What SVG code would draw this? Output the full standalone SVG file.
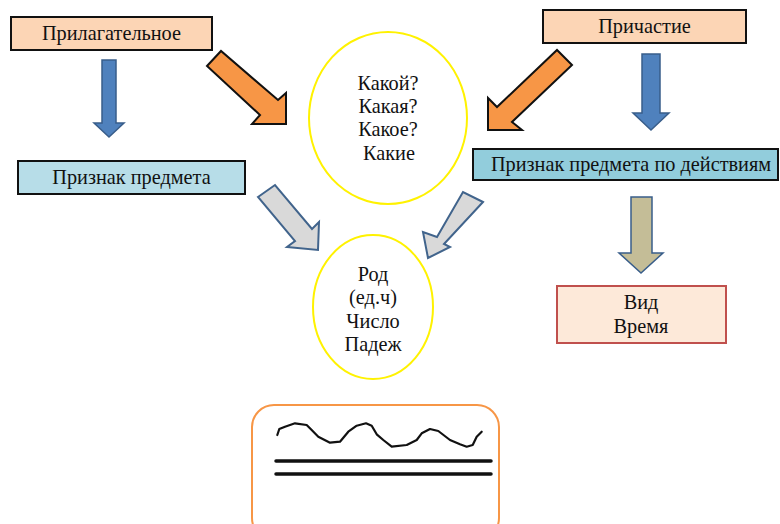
<svg xmlns="http://www.w3.org/2000/svg" width="780" height="524" viewBox="0 0 780 524">
<style>
text{font-family:"Liberation Serif","Times New Roman",serif;font-size:20.3px;fill:#111;text-anchor:middle}
.peach{fill:#FCD5B5;stroke:#111;stroke-width:2}
.blue{fill:#4F81BD;stroke:#385D8A;stroke-width:1.5}
.orange{fill:#F79646;stroke:#111;stroke-width:2}
.grey{fill:#D9D9D9;stroke:#41648C;stroke-width:2}
.ell{fill:#fff;stroke:#FFF200;stroke-width:2}
</style>
<rect width="780" height="524" fill="#fff"/>
<g id="adj"><rect class="peach" x="11" y="17" width="201" height="33"/><text x="111.5" y="40">Прилагательное</text></g>
<g id="part"><rect class="peach" x="543" y="10" width="203" height="33"/><text x="644.5" y="33">Причастие</text></g>
<g id="sign"><rect x="18" y="161" width="227" height="33" fill="#B7DDE8" stroke="#111" stroke-width="2"/><text x="131.5" y="184">Признак предмета</text></g>
<g id="signact"><rect x="473" y="149" width="305" height="31" fill="#92CDDC" stroke="#111" stroke-width="2"/><text x="631" y="171">Признак предмета по действиям</text></g>
<g id="q"><ellipse class="ell" cx="388" cy="118" rx="79" ry="86"/><text x="388" y="90">Какой?</text><text x="388" y="113">Какая?</text><text x="388" y="136">Какое?</text><text x="389" y="160">Какие</text></g>
<g id="rod"><ellipse class="ell" cx="373" cy="307" rx="60" ry="72"/><text x="373" y="281">Род</text><text x="373" y="304">(ед.ч)</text><text x="373" y="328">Число</text><text x="373" y="351">Падеж</text></g>
<g id="vid"><rect x="557" y="286" width="169" height="57" fill="#FDE9D9" stroke="#C0504D" stroke-width="2"/><text x="641" y="309">Вид</text><text x="641" y="333">Время</text></g>
<g id="scheme">
<rect x="252" y="405" width="247" height="135" rx="22" fill="#fff" stroke="#F79646" stroke-width="2"/>
<path d="M277.3,435 L279.3,429 L285,426.7 L295,423.3 L306.7,425 L311.7,430 L318.3,436.7 L330,442.7 L340,441.7 L348.3,431.7 L356.7,425.7 L366,423.3 L371.7,425.7 L376.7,434.3 L383.3,440 L391.7,446.7 L406.7,445 L416.7,440 L421.7,433.3 L430,429 L438.3,431 L450,440 L460,444.3 L466.7,446.7 L472.7,445 L476.7,436.7 L481.7,431.7" fill="none" stroke="#111" stroke-width="2.2" stroke-linejoin="round" stroke-linecap="round"/>
<line x1="276" y1="461" x2="491" y2="461" stroke="#111" stroke-width="3.5" stroke-linecap="round"/>
<line x1="276" y1="474" x2="491" y2="474" stroke="#111" stroke-width="3.5" stroke-linecap="round"/>
</g>
<g id="connectors">
<polygon class="blue" points="102,60 116,60 116,123 124,123 109,137 94,123 102,123"/>
<polygon class="blue" points="642,54 660,54 660,113 669,113 651,130 633,113 642,113"/>
<polygon points="631,197 652,197 652,253 663,253 641,273 619,253 631,253" fill="#C4BD97" stroke="#385D8A" stroke-width="1.5"/>
<polygon class="orange" points="207,66 221,51 278,100 286,93 286,124 252,124 260,115"/>
<polygon class="orange" points="572,65 557,50 497,107 488,98 488,130 522,130 512,122"/>
<polygon class="grey" points="258,197 275,185 312,229 319,222 318,250 287,247 295,241"/>
<polygon class="grey" points="483,202 463,192 437,237 423,232 428,258 450,247 444,244"/>
</g>
</svg>
